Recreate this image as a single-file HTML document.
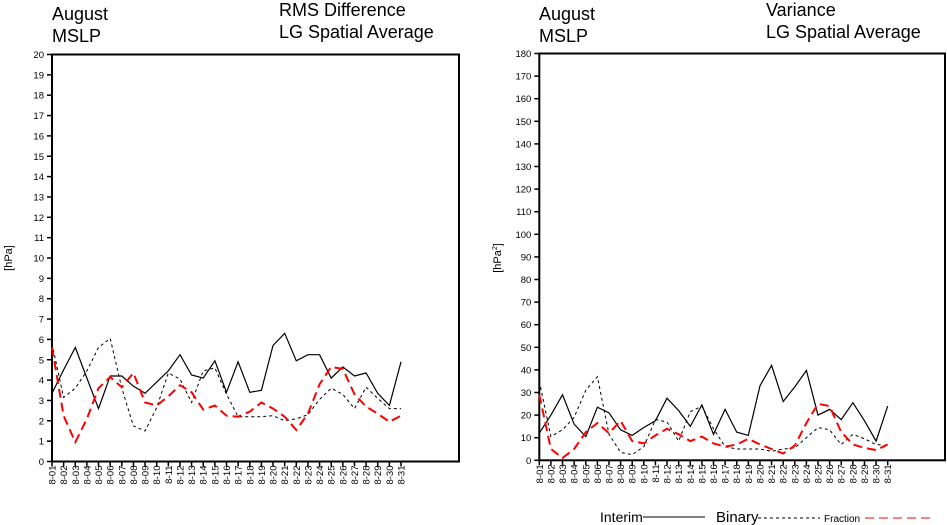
<!DOCTYPE html>
<html><head><meta charset="utf-8"><style>
html,body{margin:0;padding:0;background:#fff}
svg{display:block;font-family:"Liberation Sans",sans-serif}
</style></head><body>
<svg id="s" width="947" height="525" xmlns="http://www.w3.org/2000/svg">
<text x="52" y="20" font-size="18">August</text>
<text x="52" y="42" font-size="18">MSLP</text>
<text x="279" y="16" font-size="18">RMS Difference</text>
<text x="279" y="38" font-size="18">LG Spatial Average</text>
<text x="539" y="20" font-size="18">August</text>
<text x="539" y="42" font-size="18">MSLP</text>
<text x="766" y="16" font-size="18">Variance</text>
<text x="766" y="38" font-size="18">LG Spatial Average</text>
<text transform="translate(12,258) rotate(-90)" font-size="11" text-anchor="middle">[hPa]</text>
<text transform="translate(501,258) rotate(-90)" font-size="11" text-anchor="middle">[hPa<tspan font-size="7" dy="-4">2</tspan><tspan dy="4">]</tspan></text>
<text x="600" y="522" font-size="14">Interim</text>
<line x1="643" y1="517" x2="705" y2="517" stroke="#000" stroke-width="1"/>
<text x="716" y="522" font-size="15">Binary</text>
<line x1="758" y1="518" x2="820" y2="518" stroke="#000" stroke-width="1" stroke-dasharray="3,3"/>
<text x="824" y="522" font-size="10">Fraction</text>
<line x1="865" y1="518" x2="930" y2="518" stroke="#f00" stroke-width="1" stroke-dasharray="9,5"/>
</svg>
<script>
var s=document.getElementById('s'),NS='http://www.w3.org/2000/svg';
function el(t,a,txt){var e=document.createElementNS(NS,t);for(var k in a)e.setAttribute(k,a[k]);if(txt!=null)e.textContent=txt;s.appendChild(e);return e;}
function plot(o){
 var x0=o.x0,x1=o.x1,y0=o.y0,yT=o.yT,xr=o.xr,max=o.max,step=o.step;
 var dx=(x1-x0)/30;
 function X(i){return x0+i*dx}
 function Y(v){return y0-(y0-yT)*v/max}
 el('rect',{x:x0,y:yT,width:xr-x0,height:y0-yT,fill:'none',stroke:'#000','stroke-width':2});
 for(var v=0;v<=max;v+=step){var y=Y(v);el('line',{x1:x0-5,y1:y,x2:x0,y2:y,stroke:'#000','stroke-width':1.5});
  el('text',{x:x0-8,y:y+3.5,'font-size':9.5,'text-anchor':'end'},String(v));}
 for(var i=0;i<31;i++){var x=X(i);el('line',{x1:x,y1:y0,x2:x,y2:y0+5,stroke:'#000','stroke-width':1.5});
  var d=(i+1<10?'0':'')+(i+1);
  el('text',{transform:'translate('+(x+3.5)+','+(y0+4)+') rotate(-90)','font-size':9.5,'text-anchor':'end'},'8-'+d);}
 function line(a,st){var p=a.map(function(v,i){return X(i).toFixed(1)+','+Y(v).toFixed(1)}).join(' ');
  var e=el('polyline',{points:p,fill:'none'});for(var k in st)e.setAttribute(k,st[k]);}
 line(o.b,{stroke:'#000','stroke-width':1,'stroke-dasharray':'3,3'});
 line(o.i,{stroke:'#000','stroke-width':1.2});
 line(o.f,{stroke:'#f00','stroke-width':2,'stroke-dasharray':'9,5'});
}
plot({x0:52,x1:401,y0:461.5,yT:54.5,xr:459,max:20,step:1,
 i:[3.35,4.5,5.6,4.1,2.6,4.2,4.2,3.7,3.35,3.9,4.45,5.25,4.25,4.1,4.95,3.4,4.9,3.4,3.5,5.7,6.3,4.95,5.25,5.25,4.1,4.65,4.2,4.35,3.35,2.75,4.9],
 b:[5.8,3.15,3.6,4.45,5.6,6.05,3.6,1.75,1.5,2.65,4.35,4.05,2.9,4.45,4.6,3.3,2.2,2.2,2.2,2.25,2.0,2.1,2.3,3.05,3.6,3.3,2.6,3.65,3.1,2.6,2.6],
 f:[5.6,2.25,0.95,2.1,3.6,4.15,3.65,4.35,2.9,2.75,3.2,3.75,3.4,2.55,2.75,2.25,2.2,2.45,2.9,2.6,2.2,1.55,2.35,3.8,4.65,4.55,3.3,2.7,2.35,1.95,2.25]});
plot({x0:539.3,x1:887.7,y0:460.3,yT:53.5,xr:945,max:180,step:10,
 i:[12,20,29,16,10.5,23.5,21,13.5,11,14.5,17.5,27.5,22,15,24.5,11.5,22.5,12.5,11,33,42,26,32.5,39.8,20,22.5,18,25.5,17.5,8.5,24],
 b:[35,10.5,13.5,19,31,37,11.5,3.5,2.5,6,18,17,8.5,21.5,24,14,6,5,5,5,4,5,5.5,10,14.5,13.5,7,11.5,9.5,7,6.5],
 f:[29,5,1,5,12.5,16.5,12,17.5,8.5,7.5,11,14,11.5,8.5,10.5,7.5,6,7,9.5,7,5,3,6.5,16.5,25,24,12.5,7,5.5,4.5,7]});
</script>
</body></html>
